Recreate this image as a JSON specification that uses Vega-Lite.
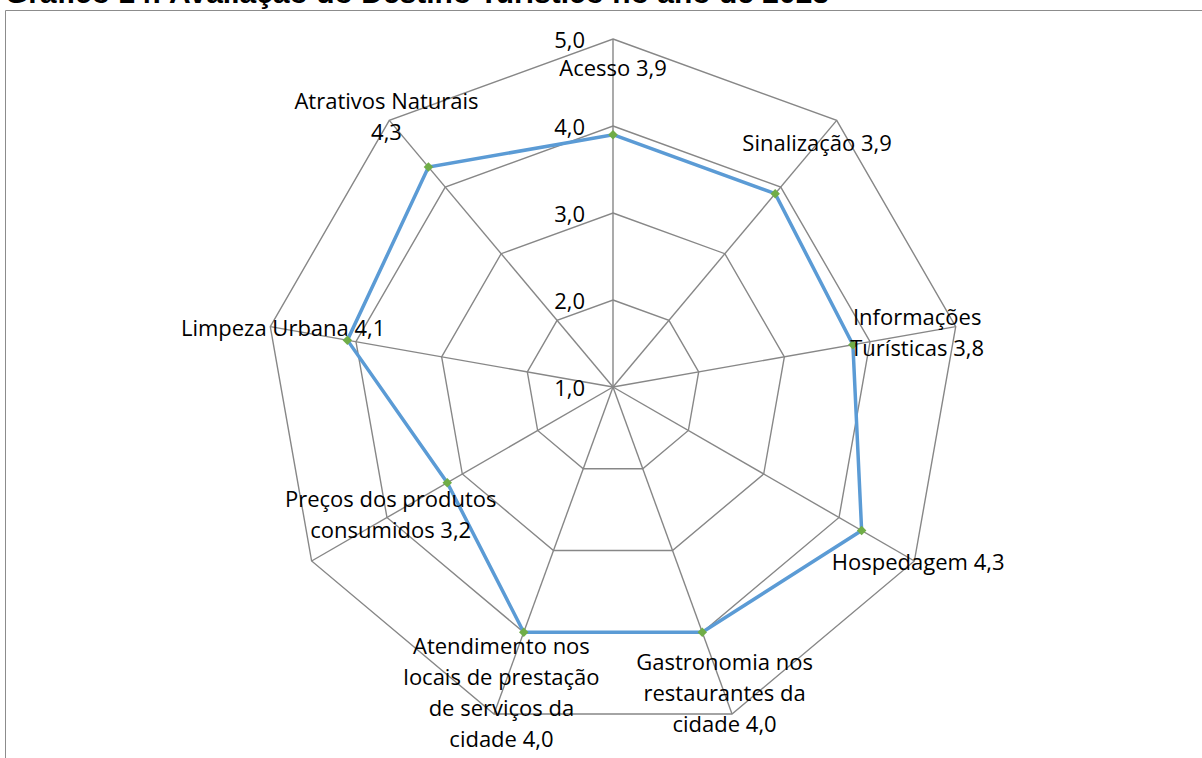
{
  "$schema": "https://vega.github.io/schema/vega-lite/v6.json",
  "autosize": {"type": "none"},
  "padding": {"left": 5, "top": 10, "right": 0, "bottom": 0},
  "width": 1200,
  "height": 760,
  "title": {
    "text": "Gráfico 14: Avaliação do Destino Turístico no ano de 2023",
    "anchor": "start",
    "font": "Liberation Sans",
    "fontSize": 30,
    "fontWeight": "bold",
    "color": "#000000",
    "offset": 1
  },
  "config": {
    "view": {"stroke": "#8c8c8c", "strokeWidth": 1},
    "locale": {"number": {"decimal": ",", "thousands": ".", "grouping": [3], "currency": ["R$", ""]}}
  },
  "datasets": {
    "scores": [
      {"i": 0, "item": "Acesso", "value": 3.9, "label": "Acesso 3,9"},
      {"i": 1, "item": "Sinalização", "value": 3.9, "label": "Sinalização 3,9"},
      {"i": 2, "item": "Informações Turísticas", "value": 3.8, "label": "Informações\nTurísticas 3,8"},
      {"i": 3, "item": "Hospedagem", "value": 4.3, "label": "Hospedagem 4,3"},
      {"i": 4, "item": "Gastronomia nos restaurantes da cidade", "value": 4.0, "label": "Gastronomia nos\nrestaurantes da\ncidade 4,0"},
      {"i": 5, "item": "Atendimento nos locais de prestação de serviços da cidade", "value": 4.0, "label": "Atendimento  nos\nlocais de prestação\nde serviços da\ncidade 4,0"},
      {"i": 6, "item": "Preços dos produtos consumidos", "value": 3.2, "label": "Preços dos produtos\nconsumidos 3,2"},
      {"i": 7, "item": "Limpeza Urbana", "value": 4.1, "label": "Limpeza  Urbana 4,1"},
      {"i": 8, "item": "Atrativos Naturais", "value": 4.3, "label": "Atrativos Naturais\n4,3"}
    ],
    "spokes": [
      {"i": 0, "level": [2, 3, 4, 5]},
      {"i": 1, "level": [2, 3, 4, 5]},
      {"i": 2, "level": [2, 3, 4, 5]},
      {"i": 3, "level": [2, 3, 4, 5]},
      {"i": 4, "level": [2, 3, 4, 5]},
      {"i": 5, "level": [2, 3, 4, 5]},
      {"i": 6, "level": [2, 3, 4, 5]},
      {"i": 7, "level": [2, 3, 4, 5]},
      {"i": 8, "level": [2, 3, 4, 5]}
    ],
    "ticks": [
      {"tick": 1}, {"tick": 2}, {"tick": 3}, {"tick": 4}, {"tick": 5}
    ]
  },
  "resolve": {"scale": {"x": "shared", "y": "shared"}},
  "encoding": {
    "x": {"type": "quantitative", "scale": {"domain": [-6.98851, 6.8046], "nice": false, "zero": false}, "axis": null},
    "y": {"type": "quantitative", "scale": {"domain": [-4.4023, 4.33333], "nice": false, "zero": false}, "axis": null}
  },
  "layer": [
    {
      "data": {"name": "spokes"},
      "transform": [
        {"flatten": ["level"]},
        {"calculate": "datum.i * 2 * PI / 9", "as": "a"},
        {"calculate": "(datum.level - 1) * sin(datum.a)", "as": "gx"},
        {"calculate": "(datum.level - 1) * cos(datum.a)", "as": "gy"}
      ],
      "mark": {"type": "line", "interpolate": "linear-closed", "color": "#878787", "strokeWidth": 1.4},
      "encoding": {
        "x": {"field": "gx", "type": "quantitative"},
        "y": {"field": "gy", "type": "quantitative"},
        "detail": {"field": "level", "type": "nominal"},
        "order": {"field": "i", "type": "quantitative"}
      }
    },
    {
      "data": {"name": "spokes"},
      "transform": [
        {"calculate": "datum.i * 2 * PI / 9", "as": "a"},
        {"calculate": "4 * sin(datum.a)", "as": "sx"},
        {"calculate": "4 * cos(datum.a)", "as": "sy"}
      ],
      "mark": {"type": "rule", "color": "#878787", "strokeWidth": 1.4},
      "encoding": {
        "x": {"field": "sx", "type": "quantitative"},
        "y": {"field": "sy", "type": "quantitative"},
        "x2": {"datum": 0},
        "y2": {"datum": 0}
      }
    },
    {
      "data": {"name": "scores"},
      "transform": [
        {"calculate": "datum.i * 2 * PI / 9", "as": "a"},
        {"calculate": "(datum.value - 1) * sin(datum.a)", "as": "px"},
        {"calculate": "(datum.value - 1) * cos(datum.a)", "as": "py"}
      ],
      "mark": {"type": "line", "interpolate": "linear-closed", "color": "#5B9BD5", "strokeWidth": 3.5},
      "encoding": {
        "x": {"field": "px", "type": "quantitative"},
        "y": {"field": "py", "type": "quantitative"},
        "order": {"field": "i", "type": "quantitative"}
      }
    },
    {
      "data": {"name": "scores"},
      "transform": [
        {"calculate": "datum.i * 2 * PI / 9", "as": "a"},
        {"calculate": "(datum.value - 1) * sin(datum.a)", "as": "px"},
        {"calculate": "(datum.value - 1) * cos(datum.a)", "as": "py"}
      ],
      "mark": {"type": "point", "shape": "diamond", "filled": true, "size": 90, "color": "#70AD47", "opacity": 1},
      "encoding": {
        "x": {"field": "px", "type": "quantitative"},
        "y": {"field": "py", "type": "quantitative"}
      }
    },
    {
      "data": {"name": "ticks"},
      "transform": [
        {"calculate": "datum.tick - 1", "as": "ty"}
      ],
      "mark": {"type": "text", "align": "right", "baseline": "middle", "dx": -28, "dy": 2, "font": "Open Sans", "fontSize": 22, "color": "#000000"},
      "encoding": {
        "x": {"datum": 0},
        "y": {"field": "ty", "type": "quantitative"},
        "text": {"field": "tick", "type": "quantitative", "format": ".1f"}
      }
    },
    {
      "data": {"name": "scores"},
      "transform": [
        {"calculate": "datum.i * 2 * PI / 9", "as": "a"},
        {"calculate": "length(split(datum.label, '\\n'))", "as": "nlines"},
        {"calculate": "(datum.value - 0.25) * sin(datum.a)", "as": "lx"},
        {"calculate": "(datum.value - 0.25) * cos(datum.a) + (datum.nlines - 1) * 0.5 * 31 / 87", "as": "ly"}
      ],
      "mark": {"type": "text", "align": "center", "baseline": "middle", "lineBreak": "\n", "lineHeight": 31, "font": "Open Sans", "fontSize": 22, "color": "#000000"},
      "encoding": {
        "x": {"field": "lx", "type": "quantitative"},
        "y": {"field": "ly", "type": "quantitative"},
        "text": {"field": "label", "type": "nominal"}
      }
    }
  ]
}
